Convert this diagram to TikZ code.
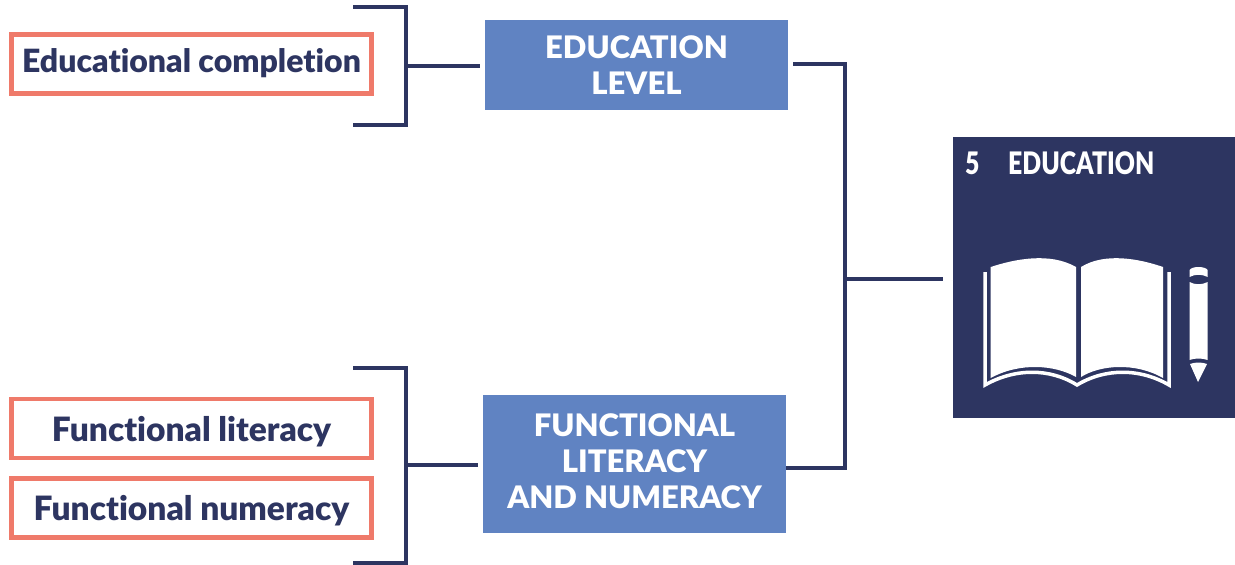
\documentclass[tikz,border=0pt]{standalone}
\usepackage{fontspec}
\setmainfont[Ligatures=NoCommon]{Lato Black}
\newfontfamily\narrowfont[FakeStretch=0.8]{Lato Black}
\usetikzlibrary{positioning}
\definecolor{navy}{HTML}{2D3561}
\definecolor{salmon}{HTML}{EF7A6A}
\definecolor{steel}{HTML}{6083C2}
\tikzstyle{indicator}=[draw=salmon,line width=4.5pt,fill=white,minimum width=360pt,minimum height=59pt,inner sep=0pt,text=navy,text depth=2pt]
\tikzstyle{dimension}=[fill=steel,text=white,align=center,inner sep=0pt,font=\fontsize{31}{36.5}\selectfont]
\tikzstyle{bracket}=[draw=navy,line width=3.5pt,line cap=butt,line join=miter]
\tikzstyle{goaltext}=[anchor=base west,text=white,inner sep=0pt,font=\fontsize{31}{31}\narrowfont]
\tikzstyle{page}=[fill=white,draw=none]

\begin{document}
\begin{tikzpicture}[x=1pt,y=-1pt]
	\useasboundingbox (0,0) rectangle (1235,565);

	% Draw the indicators
	\foreach \pos/\name/\txt/\size/\high in {{(191.5,64)/completion/Educational completion/32/19},
								{(191.5,428.5)/literacy/Functional literacy/33.5/27},
								{(191.5,508)/numeracy/Functional numeracy/33.5/27}}
	\node[indicator,text height=\high pt,font=\fontsize{\size}{\size}\selectfont] (\name) at \pos {\txt};

	% Draw the dimensions
	\node[dimension,minimum width=303pt,minimum height=90pt] (level) at (636.5,65) {EDUCATION\\LEVEL};
	\node[dimension,minimum width=303pt,minimum height=138pt] (functional) at (634.5,464) {\raisebox{3pt}[\height][\depth]{\shortstack{FUNCTIONAL\\[10pt]LITERACY\\[10pt]AND NUMERACY}}};

	% Goal square
	\node[fill=navy,minimum width=282pt,minimum height=281pt,inner sep=0pt] (goal) at (1094,277.5) {};
	\node[goaltext] (goalnum) at (965,174) {5};
	\node[goaltext] (goaltitle) at (1008,174) {EDUCATION};

	% Book and pencil
	\path[page] (990.7,267) .. controls (1015,259) and (1050,252) .. (1076,267) -- (1076,377) .. controls (1055,365) and (1020,362) .. (990.7,378) -- cycle;
	\path[page] (1081,267) .. controls (1105,252) and (1140,259) .. (1163,267) -- (1163,378) .. controls (1135,362) and (1100,365) .. (1081,377) -- cycle;
	\draw[white,line width=3.5pt] (985,272) -- (985,385) .. controls (1015,368) and (1050,368) .. (1077,385) .. controls (1105,368) and (1140,368) .. (1169,385) -- (1169,272);
	\path[page] (1189.5,282) .. controls (1195,285) and (1202,285) .. (1207.7,282) -- (1207.7,360) .. controls (1202,358) and (1195,358) .. (1189.5,360) -- cycle;
	\path[page] (1189.5,277) -- (1189.5,270) .. controls (1192,266) and (1205,266) .. (1207.7,270) -- (1207.7,277) .. controls (1202,274) and (1195,274) .. (1189.5,277) -- cycle;
	\path[page] (1190,364) .. controls (1195,362) and (1202,362) .. (1207,364) -- (1198,382) -- cycle;

	% Brackets
	\coordinate (topmid) at (406,66);
	\coordinate (lowmid) at (406,465);
	\coordinate (joint) at (845,279);
	\draw[bracket] (353,7) -| (406,125) -- (353,125);
	\draw[bracket] (353,368) -| (406,563) -- (353,563);
	\draw[bracket,shorten >=5pt] (topmid) -- (level.west |- topmid);
	\draw[bracket,shorten >=5pt] (lowmid) -- (functional.west |- lowmid);
	\draw[bracket] (793,64) -| (845,468) -- (functional.east |- 0,468);
	\draw[bracket,shorten >=10pt] (joint) -- (goal.west |- joint);
\end{tikzpicture}
\end{document}
